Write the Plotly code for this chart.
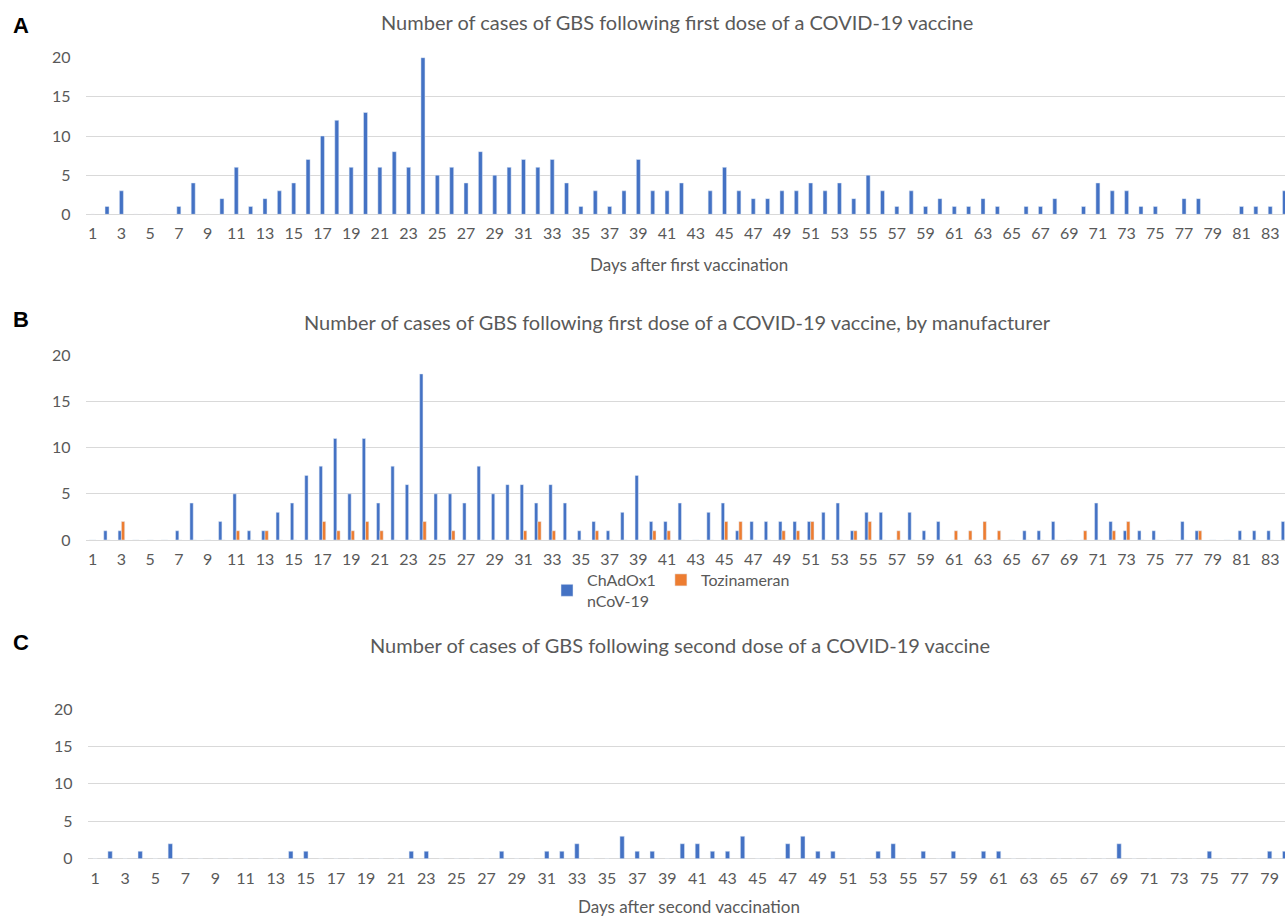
import plotly.graph_objects as go

days_first = list(range(1, 85))
cases_first = [0,1,3,0,0,0,1,4,0,2,
               6,1,2,3,4,7,10,12,6,13,
               6,8,6,20,5,6,4,8,5,6,
               7,6,7,4,1,3,1,3,7,3,
               3,4,0,3,6,3,2,2,3,3,
               4,3,4,2,5,3,1,3,1,2,
               1,1,2,1,0,1,1,2,0,1,
               4,3,3,1,1,0,2,2,0,0,
               1,1,1,3]

chadox1 = [0,1,1,0,0,0,1,4,0,2,
           5,1,1,3,4,7,8,11,5,11,
           4,8,6,18,5,5,4,8,5,6,
           6,4,6,4,1,2,1,3,7,2,
           2,4,0,3,4,1,2,2,2,2,
           2,3,4,1,3,3,0,3,1,2,
           0,0,0,0,0,1,1,2,0,0,
           4,2,1,1,1,0,2,1,0,0,
           1,1,1,2]
tozinameran = [0,0,2,0,0,0,0,0,0,0,
               1,0,1,0,0,0,2,1,1,2,
               1,0,0,2,0,1,0,0,0,0,
               1,2,1,0,0,1,0,0,0,1,
               1,0,0,0,2,2,0,0,1,1,
               2,0,0,1,2,0,1,0,0,0,
               1,1,2,1,0,0,0,0,0,1,
               0,1,2,0,0,0,0,1,0,0,
               0,0,0,0]

days_second = list(range(1, 81))
cases_second = [0,1,0,1,0,2,0,0,0,0,
                0,0,0,1,1,0,0,0,0,0,
                0,1,1,0,0,0,0,1,0,0,
                1,1,2,0,0,3,1,1,0,2,
                2,1,1,3,0,0,2,3,1,1,
                0,0,1,2,0,1,0,1,0,1,
                1,0,0,0,0,0,0,0,2,0,
                0,0,0,0,1,0,0,0,1,1]

ticks_first = list(range(1, 84, 2))
ticks_second = list(range(1, 80, 2))
y_ticks = [0, 5, 10, 15, 20]

title_a = "Number of cases of GBS following first dose of a COVID-19 vaccine"
title_b = "Number of cases of GBS following first dose of a COVID-19 vaccine, by manufacturer"
title_c = "Number of cases of GBS following second dose of a COVID-19 vaccine"
xlab_a = "Days after first vaccination"
xlab_c = "Days after second vaccination"

BLUE = "#4472C4"
ORANGE = "#ED7D31"
GRID = "#D9D9D9"
TXT = "#595959"
FONT = "Lato"
W, H = 1285, 917

fig = go.Figure()
fig.add_trace(go.Bar(x=days_first, y=cases_first, marker_color=BLUE, width=0.28,
                     showlegend=False, xaxis="x", yaxis="y"))
fig.add_trace(go.Bar(x=days_first, y=chadox1, marker_color=BLUE, width=0.23, offset=-0.23,
                     name="ChAdOx1<br>nCoV-19", xaxis="x2", yaxis="y2"))
fig.add_trace(go.Bar(x=days_first, y=tozinameran, marker_color=ORANGE, width=0.23, offset=0,
                     name="Tozinameran", xaxis="x2", yaxis="y2"))
fig.add_trace(go.Bar(x=days_second, y=cases_second, marker_color=BLUE, width=0.29,
                     showlegend=False, xaxis="x3", yaxis="y3"))

def ydom(px0, px20):
    return [1 - px0 / H, 1 - px20 / H]

xcommon = dict(showgrid=False, zeroline=False, showline=False, ticks="", automargin=False,
               tickfont=dict(family=FONT, size=16, color=TXT), ticklabelstandoff=8)
ycommon = dict(range=[0, 20.05], tickvals=y_ticks, showgrid=True, gridcolor=GRID, gridwidth=1.3,
               zeroline=True, zerolinecolor=GRID, zerolinewidth=1.3, showline=False, ticks="",
               automargin=False,
               tickfont=dict(family=FONT, size=16, color=TXT), ticklabelstandoff=14)

fig.update_layout(
    width=W, height=H, margin=dict(l=0, r=0, t=0, b=0, autoexpand=False),
    paper_bgcolor="white", plot_bgcolor="white", barmode="overlay",
    font=dict(family=FONT, color=TXT),
    xaxis=dict(domain=[85.5 / W, 1], range=[0.5, 84.03], tickvals=ticks_first,
               ticktext=[str(t) for t in ticks_first], anchor="y", **xcommon),
    yaxis=dict(domain=ydom(214.3, 57.3), anchor="x", **ycommon),
    xaxis2=dict(domain=[85.5 / W, 1], range=[0.5, 84.03], tickvals=ticks_first,
                ticktext=[str(t) for t in ticks_first], anchor="y2", **xcommon),
    yaxis2=dict(domain=ydom(540, 355), anchor="x2", **ycommon),
    xaxis3=dict(domain=[87.5 / W, 1], range=[0.5, 80.02], tickvals=ticks_second,
                ticktext=[str(t) for t in ticks_second], anchor="y3", **xcommon),
    yaxis3=dict(domain=ydom(858.7, 708.7), anchor="x3", **ycommon),
    legend=dict(orientation="h", x=671 / W, xanchor="center", y=1 - 563 / H, yanchor="top",
                font=dict(family=FONT, size=16, color=TXT), valign="middle",
                itemwidth=30, bgcolor="rgba(0,0,0,0)"),
    showlegend=True,
)

def ann(text, xpx, ypx, size, bold=False, family=FONT, color=TXT, xanchor="center"):
    fig.add_annotation(text=f"<b>{text}</b>" if bold else text, x=xpx / W, y=1 - ypx / H,
                       xref="paper", yref="paper", showarrow=False, xanchor=xanchor,
                       yanchor="middle", font=dict(family=family, size=size, color=color))

ann(title_a, 677, 22, 20)
ann(title_b, 677, 322, 20)
ann(title_c, 680, 645, 20)
ann(xlab_a, 689, 264, 17)
ann(xlab_c, 689, 906, 17)
ann("A", 11, 26, 22, bold=True, family="Liberation Sans", color="black", xanchor="left")
ann("B", 11, 320, 22, bold=True, family="Liberation Sans", color="black", xanchor="left")
ann("C", 11, 642, 22, bold=True, family="Liberation Sans", color="black", xanchor="left")

fig.write_html("out.html", config={"displayModeBar": False},
               post_script="document.body.style.margin='0';")
